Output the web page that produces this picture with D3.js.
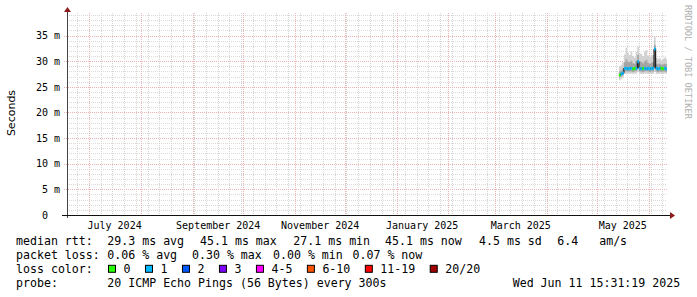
<!DOCTYPE html>
<html>
<head>
<meta charset="utf-8">
<script src="https://cdn.jsdelivr.net/npm/d3@7"></script>
<style>
body { margin: 0; background: #fff; }
svg { display: block; }
svg text { white-space: pre; }
</style>
</head>
<body>
<script>
// one sample per day, last 4 weeks only (rest of the year has no data)
var days = ["2025-05-14", "2025-05-15", "2025-05-16", "2025-05-17", "2025-05-18", "2025-05-19",
  "2025-05-20", "2025-05-21", "2025-05-22", "2025-05-23", "2025-05-24", "2025-05-25",
  "2025-05-26", "2025-05-27", "2025-05-28", "2025-05-29", "2025-05-30", "2025-05-31",
  "2025-06-01", "2025-06-02", "2025-06-03", "2025-06-04", "2025-06-05", "2025-06-06",
  "2025-06-07", "2025-06-08", "2025-06-09", "2025-06-10", "2025-06-11"];
// median rtt in ms
var median = [27.3, 27.5, 27.7, 28.6, 28.6, 28.5, 28.6, 28.6, 28.5, 28.6, 28.6, 29.9,
  28.6, 28.5, 28.6, 28.6, 28.5, 28.6, 28.5, 28.6, 28.6, 32.4, 28.6, 28.5,
  28.6, 28.6, 28.5, 28.6, 28.5];
// lost pings out of 20
var lossCount = [0, 1, 1, 1, 1, 1, 1, 1, 0, 0, 1, 1, 1, 1, 0, 1, 1, 1, 1, 1, 1, 1, 1, 1, 1, 0, 0, 1, 1];
// smoke: spread of the 20 pings
var smokeMin = [26.3, 26.5, 26.8, 27.5, 27.5, 27.6, 27.5, 27.6, 27.5, 27.6, 27.6, 27.9,
  27.6, 27.5, 27.5, 27.6, 27.6, 27.5, 27.5, 27.6, 27.5, 27.9, 27.5, 27.5,
  27.6, 27.5, 27.5, 27.6, 27.5];
var smokeLow = [26.8, 27.0, 27.3, 28.0, 28.0, 28.0, 28.0, 28.0, 27.9, 28.0, 28.1, 28.6,
  28.0, 28.0, 27.9, 28.0, 28.1, 28.0, 27.9, 28.0, 28.0, 28.8, 28.0, 27.9,
  28.0, 27.9, 28.0, 28.0, 27.9];
var smokeHigh = [28.0, 28.2, 28.6, 29.8, 30.4, 29.9, 29.8, 30.1, 29.6, 29.5, 30.2, 31.2,
  30.0, 29.9, 29.6, 30.0, 30.3, 29.7, 29.5, 29.7, 29.8, 33.2, 29.5, 29.4,
  29.5, 29.3, 29.4, 29.5, 29.4];
var smokeMax = [29.0, 29.3, 29.8, 31.3, 32.6, 31.7, 31.2, 32.0, 31.0, 30.7, 31.8, 32.8,
  31.6, 31.4, 31.0, 31.9, 32.2, 31.1, 30.8, 31.1, 31.2, 34.8, 30.6, 30.4,
  30.6, 30.2, 30.5, 30.7, 30.5];

var yTicks = [0, 5, 10, 15, 20, 25, 30, 35];
var labelMonths = ["2024-07-01", "2024-09-01", "2024-11-01", "2025-01-01", "2025-03-01", "2025-05-01"];

var rttStats = ["29.3 ms avg", "45.1 ms max", "27.1 ms min", "45.1 ms now", "4.5 ms sd", "6.4   am/s"];
var lossStats = ["0.06 % avg", "0.30 % max", "0.00 % min", "0.07 % now"];
var lossLabels = ["0", "1", "2", "3", "4-5", "6-10", "11-19", "20/20"];
var lossColors = ["#26ff00", "#00b8ff", "#0059ff", "#7e00ff", "#ff00ff", "#ff5500", "#ff0000", "#a10000"];
var probeText = "20 ICMP Echo Pings (56 Bytes) every 300s";
var stampText = "Wed Jun 11 15:31:19 2025";

var width = 697, height = 297;
var plot = {left: 67, right: 667, top: 13, bottom: 215};
var mono = "'DejaVu Sans Mono', monospace";

var parseDay = d3.timeParse("%Y-%m-%d");

var xScale = d3.scaleTime()
  .domain([new Date(2024, 5, 17, 20, 0), new Date(2025, 5, 11, 18, 30)])
  .range([plot.left, plot.right]);
var yScale = d3.scaleLinear().domain([0, 39.4]).range([plot.bottom, plot.top]);

var data = days.map(function(d, i) {
  return {date: parseDay(d), med: median[i], loss: lossCount[i],
    min: smokeMin[i], lo: smokeLow[i], hi: smokeHigh[i], max: smokeMax[i]};
});
// close the last step at the right edge
var stepData = data.concat([Object.assign({}, data[data.length - 1], {date: xScale.domain()[1]})]);

var svg = d3.select("body").append("svg")
  .attr("width", width)
  .attr("height", height)
  .attr("xml:space", "preserve");

svg.append("rect").attr("width", width).attr("height", height).attr("fill", "#fff");

// grid
var grid = svg.append("g");
var minorY = d3.range(1, 40).filter(function(v) { return v % 5 != 0; });
grid.selectAll(".minor-y").data(minorY).enter().append("line")
  .attr("x1", plot.left).attr("x2", plot.right)
  .attr("y1", function(d) { return Math.round(yScale(d)) + 0.5; })
  .attr("y2", function(d) { return Math.round(yScale(d)) + 0.5; })
  .attr("stroke", "#dadada").attr("stroke-dasharray", "1,1");

var weeks = d3.timeMonday.range(xScale.domain()[0], xScale.domain()[1]);
grid.selectAll(".minor-x").data(weeks).enter().append("line")
  .attr("x1", function(d) { return Math.round(xScale(d)) + 0.5; })
  .attr("x2", function(d) { return Math.round(xScale(d)) + 0.5; })
  .attr("y1", plot.top).attr("y2", plot.bottom)
  .attr("stroke", "#d4d4d4").attr("stroke-dasharray", "1,1");

grid.selectAll(".major-y").data(yTicks.slice(1)).enter().append("line")
  .attr("x1", plot.left - 3).attr("x2", plot.right)
  .attr("y1", function(d) { return Math.round(yScale(d)) + 0.5; })
  .attr("y2", function(d) { return Math.round(yScale(d)) + 0.5; })
  .attr("stroke", "#eeb4b4").attr("stroke-dasharray", "1,1");

var months = d3.timeMonth.range(xScale.domain()[0], xScale.domain()[1]);
grid.selectAll(".major-x").data(months).enter().append("line")
  .attr("x1", function(d) { return Math.round(xScale(d)) + 0.5; })
  .attr("x2", function(d) { return Math.round(xScale(d)) + 0.5; })
  .attr("y1", plot.top).attr("y2", plot.bottom)
  .attr("stroke", "#eeb4b4").attr("stroke-dasharray", "1,1");

// smoke
var smokeOuter = d3.area().curve(d3.curveStepAfter)
  .x(function(d) { return xScale(d.date); })
  .y0(function(d) { return yScale(d.min); })
  .y1(function(d) { return yScale(d.max); });
var smokeInner = d3.area().curve(d3.curveStepAfter)
  .x(function(d) { return xScale(d.date); })
  .y0(function(d) { return yScale(d.lo); })
  .y1(function(d) { return yScale(d.hi); });

svg.append("path").attr("d", smokeOuter(stepData)).attr("fill", "#d2d2d2");
svg.append("path").attr("d", smokeInner(stepData)).attr("fill", "#a4a4a4");

// median: black step line, then loss-coloured pieces on top
var medLine = d3.line().curve(d3.curveStepAfter)
  .x(function(d) { return xScale(d.date); })
  .y(function(d) { return yScale(d.med); });
svg.append("path").attr("d", medLine(stepData))
  .attr("fill", "none").attr("stroke", "#000").attr("stroke-width", 1);

svg.selectAll(".med").data(data).enter().append("line")
  .attr("x1", function(d) { return xScale(d.date); })
  .attr("x2", function(d, i) { return xScale(stepData[i + 1].date); })
  .attr("y1", function(d) { return yScale(d.med); })
  .attr("y2", function(d) { return yScale(d.med); })
  .attr("stroke", function(d) { return lossColors[d.loss]; })
  .attr("stroke-width", 3);

// axes
svg.append("line")
  .attr("x1", plot.left + 0.5).attr("x2", plot.left + 0.5)
  .attr("y1", plot.bottom + 3).attr("y2", plot.top - 4)
  .attr("stroke", "#444");
svg.append("line")
  .attr("x1", plot.left - 5).attr("x2", plot.right + 4)
  .attr("y1", plot.bottom + 0.5).attr("y2", plot.bottom + 0.5)
  .attr("stroke", "#111");
svg.append("path")
  .attr("d", "M" + (plot.left + 0.5) + "," + (plot.top - 6) + "l3.5,5h-7z")
  .attr("fill", "#8b1c1c");
svg.append("path")
  .attr("d", "M" + (plot.right + 8) + "," + (plot.bottom + 0.5) + "l-5,-3.5v7z")
  .attr("fill", "#8b1c1c");

var yAxis = svg.append("g")
  .attr("transform", "translate(" + plot.left + ",0)")
  .call(d3.axisLeft(yScale).tickValues(yTicks).tickSize(0).tickPadding(7)
    .tickFormat(function(d) { return d == 0 ? "0  " : d + " m"; }));
yAxis.select(".domain").remove();
yAxis.attr("font-family", mono).attr("font-size", 10);
yAxis.selectAll("text").attr("xml:space", "preserve").attr("fill", "#000");

var xAxis = svg.append("g")
  .attr("transform", "translate(0," + plot.bottom + ")")
  .call(d3.axisBottom(xScale)
    .tickValues(labelMonths.map(function(m) { return d3.timeDay.offset(parseDay(m), 15); }))
    .tickSize(0).tickPadding(7)
    .tickFormat(d3.timeFormat("%B %Y")));
xAxis.select(".domain").remove();
xAxis.attr("font-family", mono).attr("font-size", 10);
xAxis.selectAll("text").attr("fill", "#000");

// titles
svg.append("text")
  .attr("transform", "translate(14.5,113) rotate(-90)")
  .attr("text-anchor", "middle")
  .attr("font-family", "'DejaVu Sans', sans-serif")
  .attr("font-size", 11)
  .text("Seconds");

svg.append("text")
  .attr("transform", "translate(685,5) rotate(90)")
  .attr("font-family", mono)
  .attr("font-size", 8.6)
  .attr("fill", "#b0b0b0")
  .text("RRDTOOL / TOBI OETIKER");

// legend
var legend = svg.append("g")
  .attr("font-family", mono)
  .attr("font-size", 11.6);

var rows = [245.3, 259.3, 273.3, 287.3];
var rttX = [107.3, 200, 293.3, 385, 479, 557.3];
var lossX = [107.3, 192, 273, 352.5];

function legendText(x, y, s) {
  return legend.append("text")
    .attr("xml:space", "preserve")
    .attr("x", x).attr("y", y).text(s);
}

legendText(16, rows[0], "median rtt:");
rttStats.forEach(function(s, i) { legendText(rttX[i], rows[0], s); });

legendText(16, rows[1], "packet loss:");
lossStats.forEach(function(s, i) { legendText(lossX[i], rows[1], s); });

legendText(16, rows[2], "loss color:");
var sx = 108.5;
lossLabels.forEach(function(lab, i) {
  legend.append("rect")
    .attr("x", sx).attr("y", rows[2] - 8)
    .attr("width", 7).attr("height", 7)
    .attr("fill", lossColors[i]).attr("stroke", "#000").attr("stroke-width", 1);
  var t = legendText(sx + 15, rows[2], lab);
  sx = sx + 15 + t.node().getComputedTextLength() + 15;
});

legendText(16, rows[3], "probe:");
legendText(107.3, rows[3], probeText);
legendText(512.7, rows[3], stampText);
</script>
</body>
</html>
